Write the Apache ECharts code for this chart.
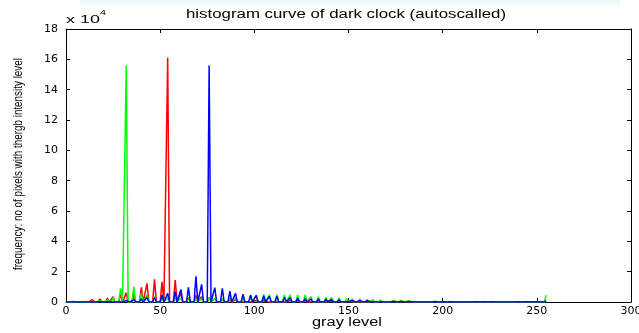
<!DOCTYPE html>
<html>
<head>
<meta charset="utf-8">
<script src="https://cdn.jsdelivr.net/npm/echarts@6/dist/echarts.min.js"></script>
<style>
  html, body { margin: 0; padding: 0; background: #ffffff; }
  #chart { width: 639px; height: 333px; }
</style>
</head>
<body>
<div id="chart"></div>
<script>
// Occupied gray levels after the contrast stretch (all other levels are empty)
const levels = [
  0, 4, 7, 11, 14, 18, 22, 25, 29, 32,
  36, 40, 43, 47, 51, 54, 58, 61, 65, 69,
  72, 76, 79, 83, 87, 90, 94, 98, 101, 105,
  108, 112, 116, 119, 123, 127, 130, 134, 138, 141,
  145, 149, 152, 156, 160, 163, 167, 171, 174, 178,
  182, 185, 189, 193, 196, 200, 204, 207, 211, 215,
  218, 222, 226, 229, 233, 237, 240, 244, 248, 251,
  255
];

// Pixel counts per occupied level, in units of 10^4
const redCounts = [
  0, 0.03, 0.06, 0.12, 0.15, 0.2, 0.25, 0.35, 0.5, 0.6,
  0.5, 0.97, 1.23, 1.5, 1.33, 16.1, 1.45, 0.6, 0.3, 0.45,
  0.35, 0.3, 0.22, 0.2, 0.16, 0.15, 0.12, 0.12, 0.1, 0.1,
  0.1, 0.1, 0.1, 0.09, 0.08, 0.08, 0.07, 0.06, 0.05, 0.05,
  0.04, 0.04, 0.03, 0.03, 0.03, 0.02, 0.02, 0.02, 0.02, 0.01,
  0.01, 0.01, 0.01, 0.01, 0.01, 0.01, 0.01, 0.01, 0.01, 0.01,
  0.01, 0.01, 0, 0, 0, 0, 0, 0, 0, 0,
  0
];

const greenCounts = [
  0, 0, 0, 0, 0.02, 0.08, 0.12, 0.3, 0.9, 15.6,
  1.0, 0.57, 0.45, 0.35, 0.3, 0.3, 0.28, 0.25, 0.22, 0.22,
  0.22, 0.25, 0.25, 0.25, 0.28, 0.3, 0.32, 0.38, 0.42, 0.5,
  0.47, 0.5, 0.46, 0.46, 0.44, 0.46, 0.35, 0.34, 0.3, 0.3,
  0.28, 0.22, 0.2, 0.18, 0.16, 0.15, 0.14, 0.12, 0.1, 0.1,
  0.08, 0.07, 0.06, 0.05, 0.05, 0.04, 0.04, 0.03, 0.03, 0.03,
  0.02, 0.02, 0.02, 0.02, 0.02, 0.01, 0.01, 0.01, 0.01, 0.01,
  0.45
];

const blueCounts = [
  0, 0, 0, 0, 0, 0.01, 0.02, 0.05, 0.08, 0.1,
  0.15, 0.2, 0.3, 0.3, 0.46, 0.57, 0.68, 0.83, 0.97, 1.7,
  1.16, 15.6, 0.95, 0.9, 0.72, 0.57, 0.52, 0.46, 0.44, 0.4,
  0.38, 0.38, 0.3, 0.28, 0.26, 0.22, 0.2, 0.2, 0.18, 0.16,
  0.15, 0.12, 0.1, 0.09, 0.08, 0.07, 0.06, 0.05, 0.04, 0.04,
  0.03, 0.03, 0.03, 0.02, 0.02, 0.02, 0.02, 0.02, 0.01, 0.01,
  0.01, 0.01, 0.01, 0.01, 0.01, 0.01, 0.01, 0.01, 0.01, 0.01,
  0.1
];

const titleText = 'histogram curve of dark clock (autoscalled)';
const xName = 'gray level';
const yName = 'frequency: no of pixels with thergb intensity level';
const scaleText = 'x 10';
const scaleExp = '4';

// Expand the sparse histogram to every gray level 0..255 (empty levels are 0)
function fullHistogram(counts) {
  const byLevel = new Map();
  levels.forEach((g, i) => byLevel.set(g, counts[i]));
  const out = [];
  for (let g = 0; g <= 255; g++) out.push([g, byLevel.has(g) ? byLevel.get(g) : 0]);
  return out;
}

// Horizontal stretch factor so a text run spans the requested width
const measureCtx = document.createElement('canvas').getContext('2d');
function stretchTo(text, font, width) {
  measureCtx.font = font;
  return width / measureCtx.measureText(text).width;
}

const labelFont = { fontFamily: 'DejaVu Sans', fontSize: 11, color: '#000' };
const lineBlack = { color: '#000', width: 1 };

function makeAxis(kind, position, withLabels) {
  const isX = kind === 'x';
  return {
    type: 'value',
    position: position,
    min: 0,
    max: isX ? 300 : 18,
    interval: isX ? 50 : 2,
    axisLine: { show: true, onZero: false, lineStyle: lineBlack },
    axisTick: { show: true, inside: true, length: 4, lineStyle: lineBlack },
    axisLabel: withLabels ? Object.assign({ margin: isX ? 4 : 8 }, labelFont) : { show: false },
    splitLine: { show: false }
  };
}

function textEl(text, font, x, y, width, extra) {
  return Object.assign({
    type: 'text',
    x: x,
    y: y,
    scaleX: stretchTo(text, font, width),
    silent: true,
    style: {
      text: text,
      font: font,
      fill: '#000',
      align: 'center',
      verticalAlign: 'middle',
      textAlign: 'center',
      textVerticalAlign: 'middle'
    }
  }, extra || {});
}

const chart = echarts.init(document.getElementById('chart'), null, { renderer: 'canvas' });

const titleFont = '12px "Liberation Sans"';
const yNameFont = '12px "Liberation Sans"';

chart.setOption({
  animation: false,
  backgroundColor: '#ffffff',
  grid: { left: 66, right: 8, top: 29, bottom: 31, containLabel: false, outerBoundsMode: 'none' },
  xAxis: [makeAxis('x', 'bottom', true), makeAxis('x', 'top', false)],
  yAxis: [makeAxis('y', 'left', true), makeAxis('y', 'right', false)],
  series: [
    { name: 'red', color: '#ff0000', data: fullHistogram(redCounts) },
    { name: 'green', color: '#00ff00', data: fullHistogram(greenCounts) },
    { name: 'blue', color: '#0000ff', data: fullHistogram(blueCounts) }
  ].map(s => ({
    type: 'line',
    name: s.name,
    xAxisIndex: 0,
    yAxisIndex: 0,
    data: s.data,
    showSymbol: false,
    symbol: 'none',
    silent: true,
    lineStyle: { color: s.color, width: 1.5 },
    itemStyle: { color: s.color }
  })),
  graphic: [
    {
      type: 'rect',
      z: -10,
      silent: true,
      shape: { x: 80, y: 0, width: 540, height: 7 },
      style: {
        fill: new echarts.graphic.LinearGradient(0, 0, 0, 1, [
          { offset: 0, color: '#e2f9fb' },
          { offset: 1, color: '#ffffff' }
        ])
      }
    },
    textEl(titleText, titleFont, 346, 15, 320),
    textEl(xName, titleFont, 347, 323, 70),
    textEl(yName, yNameFont, 18.5, 164, 212, { rotation: Math.PI / 2 }),
    textEl(scaleText, '11px "Liberation Sans"', 83, 19.5, 34),
    textEl(scaleExp, '8px "Liberation Sans"', 103, 13, 6)
  ]
});
</script>
</body>
</html>
